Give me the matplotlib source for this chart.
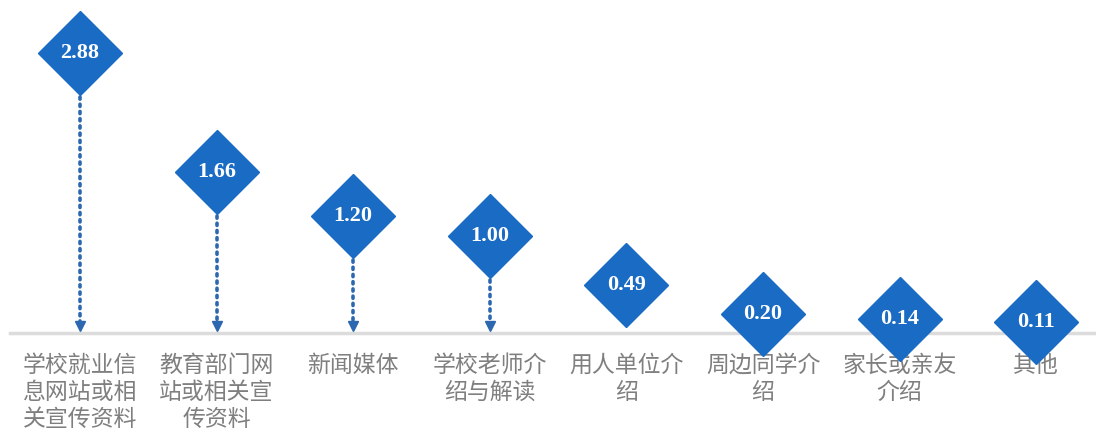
import matplotlib
matplotlib.use('Agg')
import matplotlib.pyplot as plt
import numpy as np

plt.rcParams['font.family'] = ['Noto Sans CJK SC', 'DejaVu Sans']

categories = ['学校就业信\n息网站或相\n关宣传资料', '教育部门网\n站或相关宣\n传资料', '新闻媒体',
              '学校老师介\n绍与解读', '用人单位介\n绍', '周边同学介\n绍', '家长或亲友\n介绍', '其他']
values = [2.88, 1.66, 1.20, 1.00, 0.49, 0.20, 0.14, 0.11]
labels = ['2.88', '1.66', '1.20', '1.00', '0.49', '0.20', '0.14', '0.11']

blue = '#1a6bc4'
arrow_c = '#2c68b0'

fig = plt.figure(figsize=(10.96, 4.33), dpi=100)
ax = fig.add_axes([0, 0, 1, 1])
x = np.arange(len(values))

# baseline
ax.axhline(0, xmin=0.009, xmax=1, color='#dcdcdc', lw=2.5, zorder=1)

# dotted arrows from diamond down to baseline (only where there is room)
half_diag = 42 / 97.2  # diamond half height in data units
for xi, v in zip(x, values):
    top = v - half_diag
    if top > 0.15:
        ax.plot([xi, xi], [top - 0.02, 0.06], color=arrow_c, lw=2.6,
                linestyle=(0, (0.6, 1.4)), dash_capstyle='round', zorder=2)
        ax.plot(xi, 0.07, marker='v', ms=7, color=arrow_c, mec=arrow_c, zorder=2)

ax.plot(x, values, linestyle='none', marker='D', ms=42.5, color=blue, mec=blue, zorder=4)
for xi, v, t in zip(x, values, labels):
    ax.text(xi, v, t, ha='center', va='center', color='white', fontsize=16,
            fontweight='bold', family=['Liberation Serif', 'DejaVu Serif'], zorder=5)

for xi, c in zip(x, categories):
    ax.annotate(c, (xi, 0), xytext=(0, -15), textcoords='offset points',
                ha='center', va='top', fontsize=16.5, color='#7f7f7f',
                linespacing=1.22, multialignment='center', zorder=3)

ax.set_xlim(-80 / 136.6, (1096 - 80) / 136.6)
ax.set_ylim(-100 / 97.2, 333 / 97.2)
ax.axis('off')

fig.savefig('out.png', dpi=100)
